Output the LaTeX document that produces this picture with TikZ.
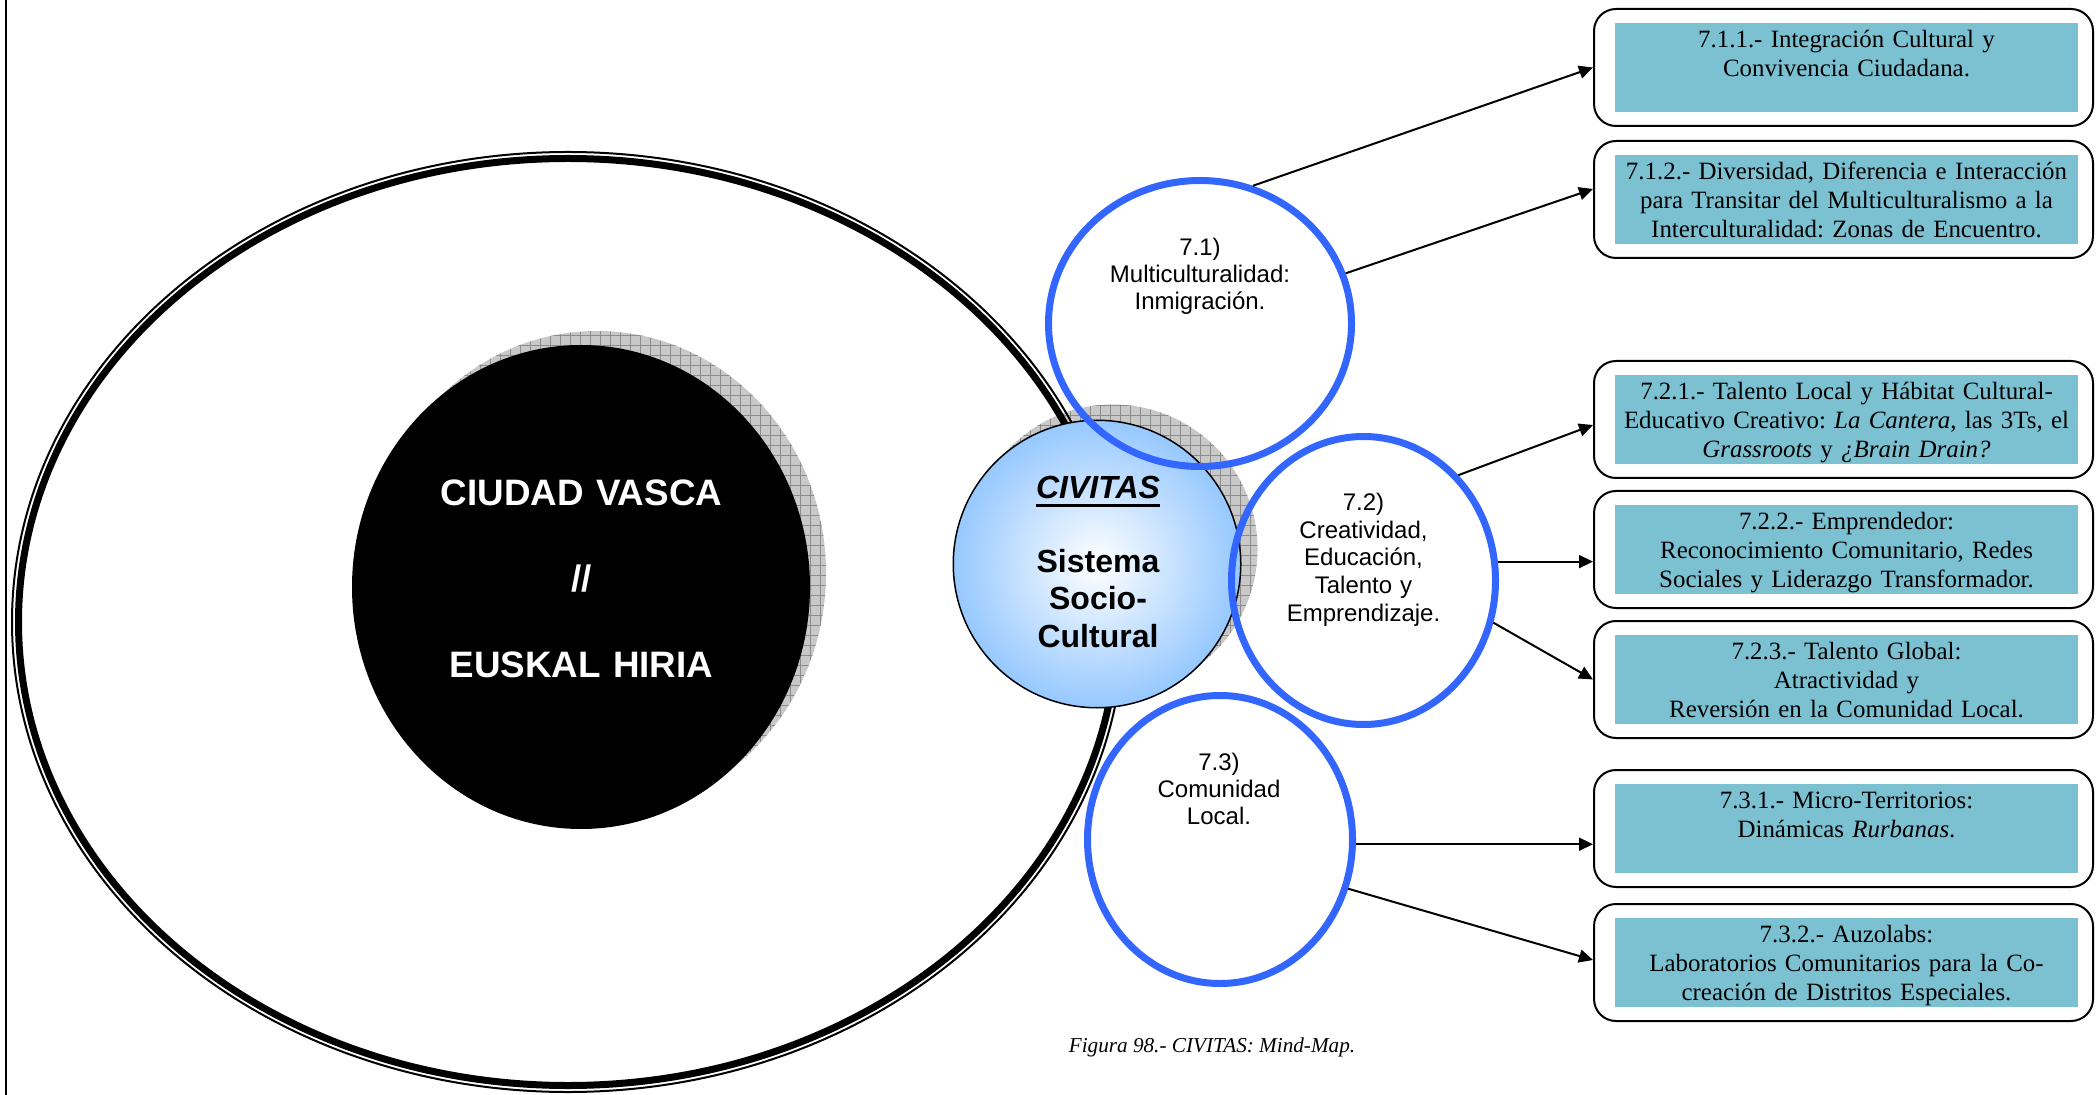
\documentclass[tikz,border=0pt]{standalone}
\usepackage{fontspec}
\setmainfont{Liberation Serif}
\newfontfamily\arialf{Liberation Sans}
\usetikzlibrary{shapes.geometric,arrows.meta,calc,patterns.meta,shadings}
\definecolor{blueline}{RGB}{51,102,255}
\definecolor{tealfill}{RGB}{124,193,209}
\definecolor{civblue}{RGB}{150,200,255}
\definecolor{shadowgray}{RGB}{200,200,200}
\definecolor{gridgray}{RGB}{140,140,140}
\frenchspacing
\begin{document}
\begin{tikzpicture}[x=0.5pt,y=-0.5pt,
  bluecirc/.style={ellipse, draw=blueline, line width=3.5pt, inner sep=0pt},
  outerbox/.style={draw=black, line width=1pt, rounded corners=11pt, minimum width=249.5pt, minimum height=58.5pt, inner sep=0pt, fill=white},
  tealbox/.style={fill=tealfill},
  boxtext/.style={font=\fontsize{12.45}{14.4}\selectfont, text width=245pt, align=center, inner sep=0pt, anchor=base},
  circtext/.style={font=\arialf\fontsize{12}{13.5}\selectfont, text width=100pt, align=center, inner sep=0pt, anchor=base},
  conn/.style={line width=1pt, -{Triangle[length=7pt,width=6.5pt]}},
  shadowfill/.style={fill=shadowgray, postaction={pattern={Hatch[angle=0,distance=5pt,line width=0.3pt]}, pattern color=gridgray}}
]
\useasboundingbox (0,0) rectangle (2096,1095);
\fill[white] (0,0) rectangle (2096,1095);

% left border line
\draw[line width=1pt] (6,0) -- (6,1095);

% black disc with shadow
\fill[shadowfill] (597,573) ellipse [x radius=229, y radius=242];
\node[ellipse, fill=black, minimum width=229pt, minimum height=242pt, inner sep=0pt] (city) at (581,587) {};
\node[font=\arialf\bfseries\fontsize{18.4}{42.75}\selectfont, text=white, text width=220pt, align=center, inner sep=0pt, anchor=base] (citytext) at (581.5,506) {CIUDAD VASCA\\//\\EUSKAL HIRIA};

% shadow of central circle
\fill[shadowfill] (1113,549) circle [radius=144.5];

% big double ellipse
\draw[line width=1pt] (568,622) ellipse [x radius=556, y radius=470];
\draw[line width=3.5pt] (568,622) ellipse [x radius=549.5, y radius=463.5];

% central circle
\node[circle, draw=black, line width=0.75pt, minimum size=143.75pt, inner sep=0pt, inner color=white, outer color=civblue] (civ) at (1097,564) {};
\node[font=\arialf\bfseries\itshape\fontsize{16}{18.5}\selectfont, inner sep=0pt, anchor=base] (civtitle) at (1098,499) {CIVITAS};
\draw[line width=1.5pt] ($(civtitle.base west)+(0,6.5)$) -- ($(civtitle.base east)+(0,6.5)$);
\node[font=\arialf\bfseries\fontsize{16}{18.5}\selectfont, text width=100pt, align=center, inner sep=0pt, anchor=base] (civsub) at (1098,573) {Sistema\\Socio-\\Cultural};

% blue circles
\node[bluecirc, minimum width=151.5pt, minimum height=143pt] (c71) at (1200,323.5) {};
\node[bluecirc, minimum width=132pt, minimum height=144pt] (c72) at (1363.5,580.5) {};
\node[bluecirc, minimum width=132.5pt, minimum height=144pt] (c73) at (1220,839.5) {};
\node[circtext] (t71) at (1200,256) {7.1)\\Multiculturalidad:\\Inmigración.};
\node[circtext, font=\arialf\fontsize{12}{13.85}\selectfont] (t72) at (1363.5,510.5) {7.2)\\Creatividad,\\Educación,\\Talento y\\Emprendizaje.};
\node[circtext] (t73) at (1219,770) {7.3)\\Comunidad\\Local.};

% boxes
\node[outerbox] (b711) at (1843.5,67.5) {};
\node[outerbox] (b712) at (1843.5,199.5) {};
\node[outerbox] (b721) at (1843.5,419.5) {};
\node[outerbox] (b722) at (1843.5,549.5) {};
\node[outerbox] (b723) at (1843.5,679.5) {};
\node[outerbox] (b731) at (1843.5,828.5) {};
\node[outerbox] (b732) at (1843.5,962.5) {};
\foreach \b in {b711,b712,b721,b722,b723,b731,b732}{
  \fill[tealbox] ($(\b.north west)+(22,15)$) rectangle ($(\b.south east)+(-16,-15)$);
}
\node[boxtext] (t711) at ($(b711.north)+(3,39.5)$) {7.1.1.- Integración Cultural y\\Convivencia Ciudadana.};
\node[boxtext] (t712) at ($(b712.north)+(3,39.5)$) {7.1.2.- Diversidad, Diferencia e Interacción\\para Transitar del Multiculturalismo a la\\Interculturalidad: Zonas de Encuentro.};
\node[boxtext] (t721) at ($(b721.north)+(3,39.5)$) {7.2.1.- Talento Local y Hábitat Cultural-\\Educativo Creativo: \textit{La Cantera}, las 3Ts, el\\\textit{Grassroots} y \textit{¿Brain Drain?}};
\node[boxtext] (t722) at ($(b722.north)+(3,39.5)$) {7.2.2.- Emprendedor:\\Reconocimiento Comunitario, Redes\\Sociales y Liderazgo Transformador.};
\node[boxtext] (t723) at ($(b723.north)+(3,39.5)$) {7.2.3.- Talento Global:\\Atractividad y\\Reversión en la Comunidad Local.};
\node[boxtext] (t731) at ($(b731.north)+(3,39.5)$) {7.3.1.- Micro-Territorios:\\Dinámicas \textit{Rurbanas}.};
\node[boxtext] (t732) at ($(b732.north)+(3,39.5)$) {7.3.2.- Auzolabs:\\Laboratorios Comunitarios para la Co-\\creación de Distritos Especiales.};

% connectors
\draw[conn] (c71.69) -- (b711.west);
\draw[conn] (c71.19.7) -- ($(b712.west)+(0,-10.5)$);
\draw[conn] (c72.48) -- ($(b721.west)+(0,5.5)$);
\draw[conn] (c72.8) -- (c72.8 -| b722.west);
\draw[conn] (c72.342.4) -- (b723.west);
\draw[conn] (c73.358.5) -- (c73.358.5 -| b731.west);
\draw[conn] (c73.339.4) -- ($(b732.west)+(0,-2.5)$);

% caption
\node[font=\itshape\fontsize{10.6}{12}\selectfont, anchor=base, inner sep=0pt] (caption) at (1212,1052) {Figura 98.- CIVITAS: Mind-Map.};
\end{tikzpicture}
\end{document}
